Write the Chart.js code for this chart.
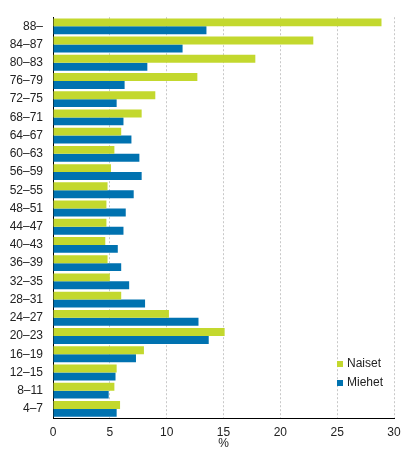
<!DOCTYPE html>
<html>
<head>
<meta charset="utf-8">
<script src="https://cdn.jsdelivr.net/npm/chart.js@4"></script>
<style>
  html, body { margin: 0; padding: 0; background: #fff; }
  #wrap { width: 416px; height: 456px; }
</style>
</head>
<body>
<div id="wrap"><canvas id="ageChart"></canvas></div>
<script>
const ageGroups = ['88–', '84–87', '80–83', '76–79', '72–75', '68–71', '64–67', '60–63', '56–59', '52–55', '48–51',
    '44–47', '40–43', '36–39', '32–35', '28–31', '24–27', '20–23', '16–19', '12–15', '8–11', '4–7'];
const naiset = [28.9, 22.9, 17.8, 12.7, 9.0, 7.8, 6.0, 5.4, 5.1, 4.8, 4.7,
    4.7, 4.6, 4.8, 5.0, 6.0, 10.2, 15.1, 8.0, 5.6, 5.4, 5.9];
const miehet = [13.5, 11.4, 8.3, 6.3, 5.6, 6.2, 6.9, 7.6, 7.8, 7.1, 6.4,
    6.2, 5.7, 6.0, 6.7, 8.1, 12.8, 13.7, 7.3, 5.5, 4.9, 5.6];
const xTicks = [0, 5, 10, 15, 20, 25, 30];

const font = { family: '"Liberation Sans", Arial, sans-serif', size: 12 };

// legend drawn inside the plot, lower right
const insideLegend = {
    id: 'insideLegend',
    afterDraw(chart) {
        const ctx = chart.ctx;
        ctx.save();
        ctx.font = '12px "Liberation Sans", Arial, sans-serif';
        ctx.textBaseline = 'middle';
        chart.data.datasets.forEach((ds, i) => {
            const y = 364 + i * 19;
            ctx.fillStyle = ds.backgroundColor;
            ctx.fillRect(337, y - 3, 6, 6);
            ctx.fillStyle = '#222';
            ctx.fillText(ds.label, 347, y);
        });
        ctx.restore();
    }
};

const ctx = document.getElementById('ageChart').getContext('2d');
new Chart(ctx, {
    type: 'bar',
    data: {
        labels: ageGroups,
        datasets: [{
            label: 'Naiset',
            data: naiset,
            backgroundColor: '#c3d82e',
            categoryPercentage: 0.87,
            barPercentage: 1
        }, {
            label: 'Miehet',
            data: miehet,
            backgroundColor: '#0072b0',
            categoryPercentage: 0.87,
            barPercentage: 1
        }]
    },
    options: {
        indexAxis: 'y',
        responsive: true,
        maintainAspectRatio: false,
        animation: false,
        layout: { padding: { top: 14, right: 22, left: 0, bottom: 0 } },
        plugins: {
            legend: { display: false },
            tooltip: { enabled: false }
        },
        scales: {
            x: {
                min: 0,
                max: 30,
                afterBuildTicks: scale => { scale.ticks = xTicks.map(v => ({ value: v })); },
                afterFit: scale => { scale.height = 38; },
                grid: {
                    color: '#c8c8c8',
                    lineWidth: 1,
                    drawTicks: false
                },
                border: { color: '#000', width: 1, dash: [2, 2], display: true },
                ticks: { font: font, color: '#222', padding: 7, maxRotation: 0 },
                title: { display: true, text: '%', font: font, color: '#222', padding: { top: 0, bottom: 5 } }
            },
            y: {
                afterFit: scale => { scale.width = 53; },
                grid: { display: false, drawTicks: false },
                border: { color: '#000', width: 1 },
                ticks: { font: font, color: '#222', padding: 10, autoSkip: false }
            }
        }
    },
    plugins: [insideLegend]
});
</script>
</body>
</html>
